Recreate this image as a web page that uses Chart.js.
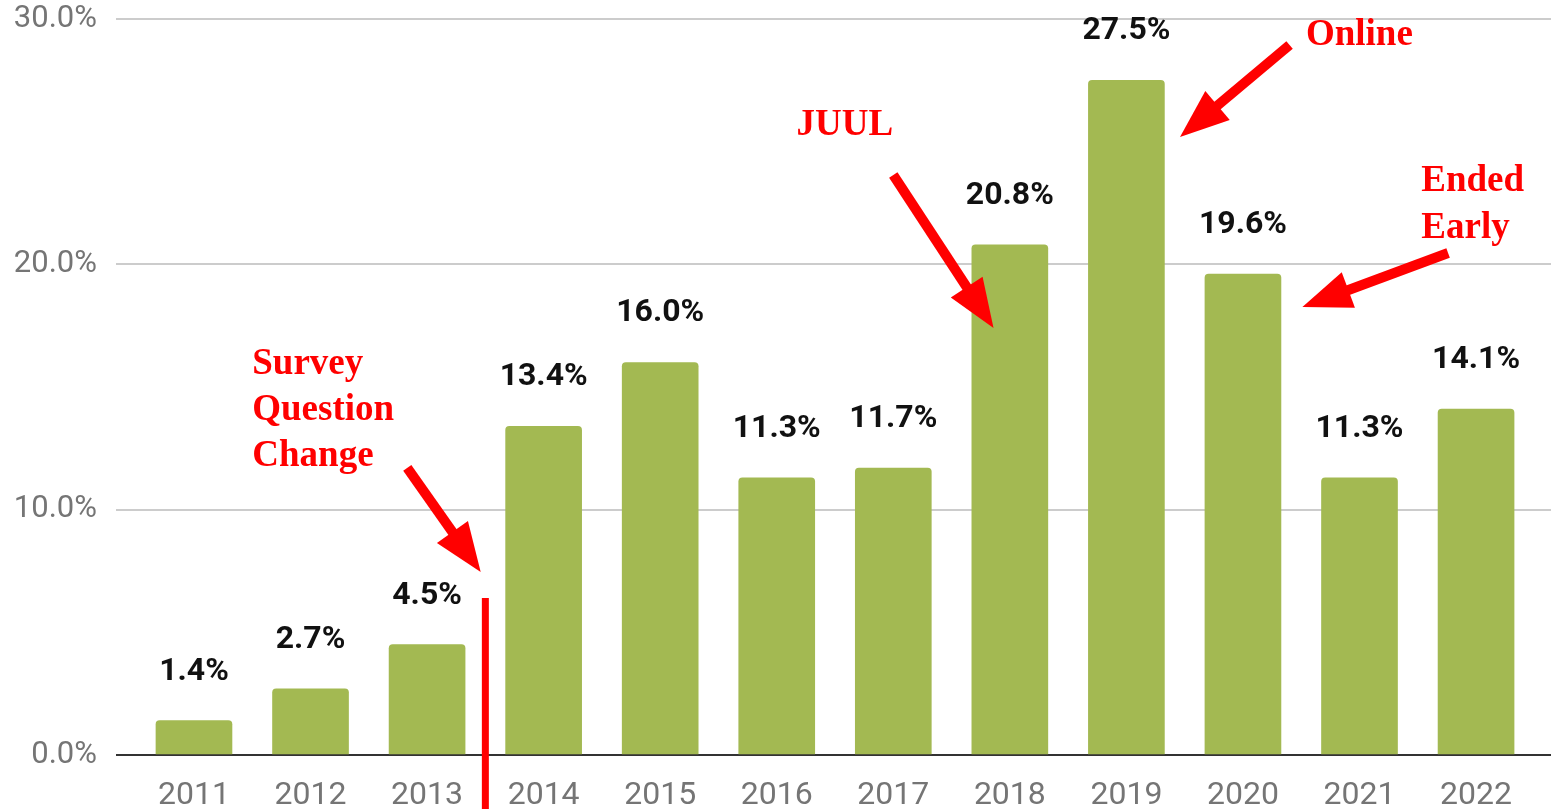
<!DOCTYPE html>
<html>
<head>
<meta charset="utf-8">
<script src="https://cdn.jsdelivr.net/npm/chart.js@4"></script>
<style>
  html, body { margin: 0; padding: 0; background: #fff; }
  canvas { display: block; }
</style>
</head>
<body>
<canvas id="chart" width="1551" height="809"></canvas>
<script>
// chart values
const categories = ['2011', '2012', '2013', '2014', '2015', '2016', '2017', '2018', '2019', '2020', '2021', '2022']
const values = [1.4, 2.7, 4.5, 13.4, 16.0, 11.3, 11.7, 20.8, 27.5, 19.6, 11.3, 14.1]
const yTicks = [0, 10, 20, 30]

// red notes, placed in data units (year, percent)
const notes = [
  { lines: ['Survey', 'Question', 'Change'], x: 2011.50, y: 15.94, lh: 46 },
  { lines: ['JUUL'], x: 2016.17, y: 25.68, lh: 46 },
  { lines: ['Online'], x: 2020.54, y: 29.35, lh: 46 },
  { lines: ['Ended', 'Early'], x: 2021.53, y: 23.36, lh: 47 }
]
const arrows = [
  { from: [2012.83, 11.70], to: [2013.46, 7.46] },
  { from: [2017.00, 23.64], to: [2017.86, 17.40] },
  { from: [2020.40, 28.94], to: [2019.46, 25.19] },
  { from: [2021.76, 20.46], to: [2020.51, 18.26] }
]
const breakLine = { x: 2013.5, y: 6.4 }

const red = '#ff0000'

// labels over the bars
const barLabels = {
  id: 'barLabels',
  afterDatasetsDraw(chart) {
    const ctx = chart.ctx
    const meta = chart.getDatasetMeta(0)
    ctx.save()
    ctx.font = 'bold 32px Roboto'
    ctx.fillStyle = '#111'
    ctx.textAlign = 'center'
    ctx.textBaseline = 'middle'
    meta.data.forEach((bar, i) => {
      ctx.fillText(values[i].toFixed(1) + '%', bar.x, bar.y - 49)
    })
    ctx.restore()
  }
}

// the red notes, arrows and the break line
const redNotes = {
  id: 'redNotes',
  afterDraw(chart) {
    const ctx = chart.ctx
    const xs = chart.scales.x
    const ys = chart.scales.y
    const px = v => xs.getPixelForValue(v)
    const py = v => ys.getPixelForValue(v)
    ctx.save()
    ctx.fillStyle = red
    ctx.strokeStyle = red

    // break line between 2013 and 2014
    ctx.lineWidth = 7
    ctx.beginPath()
    ctx.moveTo(px(breakLine.x), py(breakLine.y))
    ctx.lineTo(px(breakLine.x), chart.height)
    ctx.stroke()

    ctx.font = 'bold 37px "Liberation Serif"'
    ctx.textAlign = 'left'
    ctx.textBaseline = 'middle'
    notes.forEach(n => {
      n.lines.forEach((t, k) => ctx.fillText(t, px(n.x), py(n.y) + k * n.lh))
    })

    arrows.forEach(a => {
      const x0 = px(a.from[0]), y0 = py(a.from[1])
      const x1 = px(a.to[0]), y1 = py(a.to[1])
      const ang = Math.atan2(y1 - y0, x1 - x0)
      const headLen = 49, headHalf = 19
      const bx = x1 - headLen * Math.cos(ang)
      const by = y1 - headLen * Math.sin(ang)
      ctx.lineWidth = 10
      ctx.beginPath()
      ctx.moveTo(x0, y0)
      ctx.lineTo(bx + 2 * Math.cos(ang), by + 2 * Math.sin(ang))
      ctx.stroke()
      ctx.beginPath()
      ctx.moveTo(x1, y1)
      ctx.lineTo(bx + headHalf * Math.sin(ang), by - headHalf * Math.cos(ang))
      ctx.lineTo(bx - headHalf * Math.sin(ang), by + headHalf * Math.cos(ang))
      ctx.closePath()
      ctx.fill()
    })
    ctx.restore()
  }
}

const config = {
  type: 'bar',
  data: {
    datasets: [{
      data: categories.map((c, i) => ({ x: Number(c), y: values[i] })),
      backgroundColor: '#a3b952',
      barThickness: 76,
      borderRadius: { topLeft: 4, topRight: 4, bottomLeft: 0, bottomRight: 0 },
      borderSkipped: false
    }]
  },
  options: {
    responsive: false,
    animation: false,
    layout: { padding: { top: 19, right: 0, left: 0, bottom: 0 } },
    plugins: { legend: { display: false }, tooltip: { enabled: false } },
    scales: {
      x: {
        type: 'linear',
        offset: false,
        min: 2010.331,
        max: 2022.643,
        grid: { display: false },
        border: { display: false },
        afterBuildTicks: s => { s.ticks = categories.map(c => ({ value: Number(c) })) },
        afterFit: s => { s.height = 54; s.paddingLeft = 0; s.paddingRight = 0 },
        ticks: {
          callback: v => String(v),
          color: '#757575',
          font: { family: 'Roboto', size: 32 },
          padding: 14,
          maxRotation: 0,
          autoSkip: false
        }
      },
      y: {
        min: 0,
        max: 30,
        afterBuildTicks: s => { s.ticks = yTicks.map(v => ({ value: v })) },
        // keep the plot box fixed: no extra room for the top tick label
        afterFit: s => { s.width = 116; s.paddingTop = 0; s.paddingBottom = 0 },
        border: { display: false },
        grid: {
          drawTicks: false,
          lineWidth: 2,
          color: c => c.tick && c.tick.value === 0 ? '#333' : '#cccccc'
        },
        ticks: {
          callback: v => v.toFixed(1) + '%',
          color: '#757575',
          font: { family: 'Roboto', size: 31 },
          padding: 19
        }
      }
    }
  },
  plugins: [barLabels, redNotes]
}

const myChart = new Chart(document.getElementById('chart').getContext('2d'), config)
</script>
</body>
</html>
